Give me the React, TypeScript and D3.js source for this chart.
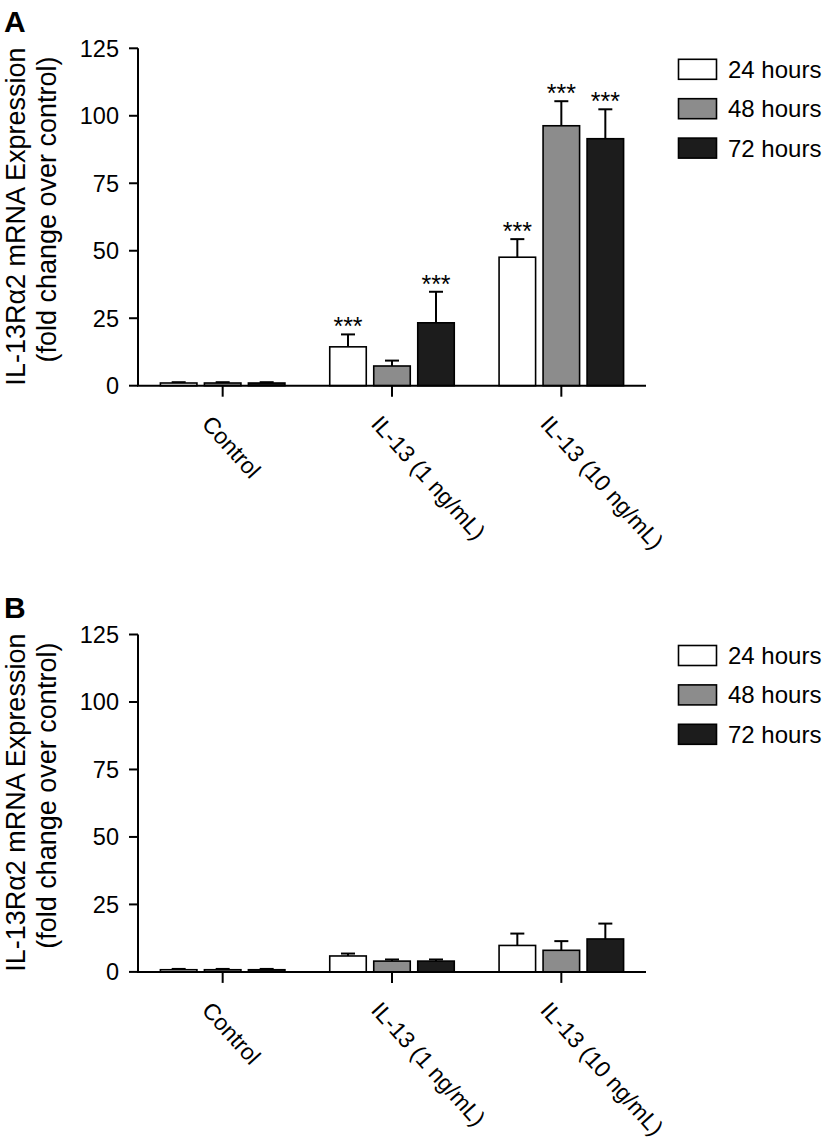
import React from "react";
import * as d3 from "d3";

const categories = ["Control", "IL-13 (1 ng/mL)", "IL-13 (10 ng/mL)"];
const seriesNames = ["24 hours", "48 hours", "72 hours"];
const seriesColors = ["#ffffff", "#8c8c8c", "#1c1c1c"];
const yTicks = [0, 25, 50, 75, 100, 125];

// Panel A
const aMean24 = [1.0, 14.4, 47.6];
const aMean48 = [1.0, 7.3, 96.3];
const aMean72 = [1.0, 23.3, 91.5];
const aErr24 = [0.3, 4.6, 6.7];
const aErr48 = [0.3, 2.0, 9.1];
const aErr72 = [0.3, 11.5, 10.9];
const aSig24 = ["", "***", "***"];
const aSig48 = ["", "", "***"];
const aSig72 = ["", "***", "***"];

// Panel B
const bMean24 = [0.8, 5.9, 9.8];
const bMean48 = [0.8, 4.0, 8.0];
const bMean72 = [0.8, 4.0, 12.2];
const bErr24 = [0.3, 0.9, 4.4];
const bErr48 = [0.3, 0.6, 3.4];
const bErr72 = [0.3, 0.6, 5.7];
const bSig24 = ["", "", ""];
const bSig48 = ["", "", ""];
const bSig72 = ["", "", ""];

const FONT = "'Liberation Sans', Arial, Helvetica, sans-serif";

type PanelProps = {
  letter: string;
  top: number;
  means: number[][];
  errs: number[][];
  sigs: string[][];
};

function Panel({ letter, top, means, errs, sigs }: PanelProps) {
  const x0 = 138;
  const x1 = 646;
  const yBottom = top + 385.7;
  const yTop = top + 48.3;
  const y = d3.scaleLinear().domain([0, 125]).range([yBottom, yTop]);
  const xCat = d3.scaleBand<string>().domain(categories).range([x0, x1]).padding(0);
  const inner = d3
    .scaleBand<string>()
    .domain(seriesNames)
    .range([-66, 66])
    .paddingInner(0.17)
    .paddingOuter(0.085);

  const bars: React.ReactNode[] = [];
  categories.forEach((c, ci) => {
    const cx = (xCat(c) as number) + xCat.bandwidth() / 2;
    seriesNames.forEach((s, si) => {
      const bx = cx + (inner(s) as number);
      const bw = inner.bandwidth();
      const m = means[si][ci];
      const e = errs[si][ci];
      const yt = y(m);
      const ye = y(m + e);
      const mx = bx + bw / 2;
      bars.push(
        <g key={`${ci}-${si}`}>
          <line x1={mx} x2={mx} y1={yt} y2={ye} stroke="#000" strokeWidth={2} />
          <line x1={mx - 7} x2={mx + 7} y1={ye} y2={ye} stroke="#000" strokeWidth={2} />
          <rect
            x={bx}
            y={yt}
            width={bw}
            height={yBottom - yt}
            fill={seriesColors[si]}
            stroke="#000"
            strokeWidth={1.6}
          />
          {sigs[si][ci] ? (
            <text x={mx} y={ye + 1} textAnchor="middle" fontSize={25} fontFamily={FONT}>
              {sigs[si][ci]}
            </text>
          ) : null}
        </g>
      );
    });
  });

  return (
    <g>
      <text x={4} y={top + 32} fontSize={30} fontWeight="bold" fontFamily={FONT}>
        {letter}
      </text>
      {/* y label */}
      <text
        transform={`translate(24.5, ${top + 216.5}) rotate(-90)`}
        textAnchor="middle"
        fontSize={27}
        fontFamily={FONT}
      >
        IL-13Rα2 mRNA Expression
      </text>
      <text
        transform={`translate(55.5, ${top + 209.5}) rotate(-90)`}
        textAnchor="middle"
        fontSize={27}
        fontFamily={FONT}
      >
        (fold change over control)
      </text>
      {/* y axis */}
      <line x1={x0} x2={x0} y1={yTop} y2={yBottom} stroke="#000" strokeWidth={2} />
      {yTicks.map((t) => (
        <g key={t}>
          <line x1={x0 - 9} x2={x0} y1={y(t)} y2={y(t)} stroke="#000" strokeWidth={2} />
          <text
            x={x0 - 19}
            y={y(t) + 8.3}
            textAnchor="end"
            fontSize={23.5}
            fontFamily={FONT}
          >
            {t}
          </text>
        </g>
      ))}
      {bars}
      {/* x axis */}
      <line x1={x0 - 1} x2={x1} y1={yBottom} y2={yBottom} stroke="#000" strokeWidth={2} />
      {categories.map((c) => {
        const cx = (xCat(c) as number) + xCat.bandwidth() / 2;
        return (
          <g key={c}>
            <line x1={cx} x2={cx} y1={yBottom} y2={yBottom + 11} stroke="#000" strokeWidth={2} />
            <text
              transform={`translate(${cx - 22}, ${yBottom + 39}) rotate(48)`}
              fontSize={23}
              fontFamily={FONT}
            >
              {c}
            </text>
          </g>
        );
      })}
      {/* legend */}
      {seriesNames.map((s, si) => {
        const ly = top + 59.3 + si * 39.4;
        return (
          <g key={s}>
            <rect
              x={678.5}
              y={ly}
              width={38}
              height={20}
              fill={seriesColors[si]}
              stroke="#000"
              strokeWidth={1.6}
            />
            <text x={728} y={ly + 18.5} fontSize={24} fontFamily={FONT}>
              {s}
            </text>
          </g>
        );
      })}
    </g>
  );
}

export default function App() {
  return (
    <svg
      width={826}
      height={1141}
      viewBox="0 0 826 1141"
      style={{ position: "absolute", left: 0, top: 0, background: "#fff" }}
    >
      <rect x={0} y={0} width={826} height={1141} fill="#fff" />
      <Panel
        letter="A"
        top={0}
        means={[aMean24, aMean48, aMean72]}
        errs={[aErr24, aErr48, aErr72]}
        sigs={[aSig24, aSig48, aSig72]}
      />
      <Panel
        letter="B"
        top={586.2}
        means={[bMean24, bMean48, bMean72]}
        errs={[bErr24, bErr48, bErr72]}
        sigs={[bSig24, bSig48, bSig72]}
      />
    </svg>
  );
}
